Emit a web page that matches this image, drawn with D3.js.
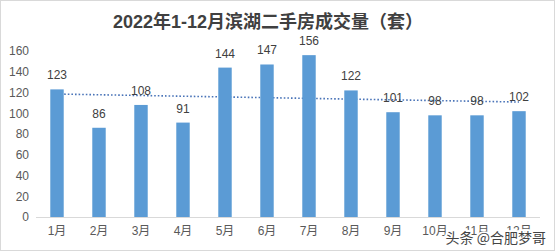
<!DOCTYPE html>
<html>
<head>
<meta charset="utf-8">
<script src="https://cdn.jsdelivr.net/npm/d3@7"></script>
<style>
body { margin: 0; background: #fff; }
svg { font-family: "Liberation Sans", "Noto Sans CJK SC", sans-serif; }
</style>
</head>
<body>
<svg id="chart"></svg>
<script>
let months = ['1月', '2月', '3月', '4月', '5月', '6月', '7月', '8月', '9月', '10月', '11月', '12月'];
let counts = [123, 86, 108, 91, 144, 147, 156, 122, 101, 98, 98, 102];
let yTicks = [0, 20, 40, 60, 80, 100, 120, 140, 160];

let width = 555, height = 251;
let chart = d3.select('#chart').attr('width', width).attr('height', height);

// frame
chart.append('rect')
	.attr('x', 0.5).attr('y', 0.5)
	.attr('width', width - 1).attr('height', height - 1)
	.attr('fill', '#fff').attr('stroke', '#d9d9d9');

let xScale = d3.scaleBand().domain(months).range([36, 540]).paddingInner(0.68).paddingOuter(0.34);
let yScale = d3.scaleLinear().domain([0, 160]).range([217, 51]);

// title
chart.append('text')
	.attr('x', 113).attr('y', 28)
	.attr('text-anchor', 'start')
	.attr('font-size', 18).attr('font-weight', 'bold')
	.attr('fill', '#404040')
	.text('2022年1-12月滨湖二手房成交量（套）');

// y axis labels
let yAxis = d3.axisLeft(yScale).tickValues(yTicks).tickSize(0).tickPadding(0);
let yg = chart.append('g').attr('transform', 'translate(29,0)').call(yAxis);
yg.select('.domain').remove();
yg.selectAll('text').attr('font-size', 12).attr('fill', '#595959')
	.attr('font-family', '"Liberation Sans", sans-serif');

// baseline
chart.append('line')
	.attr('x1', 36).attr('x2', 540)
	.attr('y1', yScale(0) + 0.5).attr('y2', yScale(0) + 0.5)
	.attr('stroke', '#d9d9d9');

// x axis labels
let xAxis = d3.axisBottom(xScale).tickSize(0).tickPadding(9);
let xg = chart.append('g').attr('transform', `translate(0,${yScale(0)})`).call(xAxis);
xg.select('.domain').remove();
xg.selectAll('text').attr('font-size', 12).attr('fill', '#595959')
	.attr('font-family', '"Liberation Sans", "Noto Sans CJK SC", sans-serif');

// linear trend line
let n = counts.length;
let mx = (n + 1) / 2;
let my = d3.mean(counts);
let sxy = d3.sum(counts, (d, i) => (i + 1 - mx) * (d - my));
let sxx = d3.sum(counts, (d, i) => (i + 1 - mx) * (i + 1 - mx));
let slope = sxy / sxx;
let trend = months.map((m, i) => ({ m: m, v: my + slope * (i + 1 - mx) }));

let line = d3.line()
	.x(d => xScale(d.m) + xScale.bandwidth() / 2)
	.y(d => yScale(d.v));

chart.append('path')
	.datum(trend)
	.attr('d', line)
	.attr('fill', 'none')
	.attr('stroke', '#4a74b8')
	.attr('stroke-width', 1.6)
	.attr('stroke-dasharray', '1.6,2');

// bars
chart.selectAll('rect.bar')
	.data(counts)
	.enter()
	.append('rect')
	.attr('class', 'bar')
	.attr('x', (d, i) => xScale(months[i]))
	.attr('y', d => yScale(d))
	.attr('width', xScale.bandwidth())
	.attr('height', d => yScale(0) - yScale(d))
	.attr('fill', '#5b9bd5');

// value labels
chart.selectAll('text.val')
	.data(counts)
	.enter()
	.append('text')
	.attr('class', 'val')
	.attr('x', (d, i) => xScale(months[i]) + xScale.bandwidth() / 2)
	.attr('y', d => yScale(d) - 10)
	.attr('text-anchor', 'middle')
	.attr('font-size', 12)
	.attr('fill', '#404040')
	.text(d => d);

// watermark (covers the last month labels as in the source image)
chart.append('text')
	.attr('x', 546).attr('y', 243)
	.attr('text-anchor', 'end')
	.attr('font-size', 14)
	.attr('fill', '#444')
	.attr('stroke', '#fff').attr('stroke-width', 3.5)
	.attr('paint-order', 'stroke')
	.attr('font-family', '"Noto Sans CJK SC", sans-serif')
	.text('头条 @合肥梦哥');
</script>
</body>
</html>
